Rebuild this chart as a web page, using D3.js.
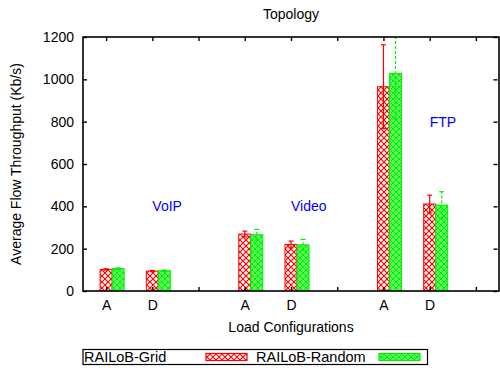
<!DOCTYPE html>
<html>
<head>
<meta charset="utf-8">
<script src="https://cdn.jsdelivr.net/npm/d3@7"></script>
<style>
  html, body { margin: 0; padding: 0; background: #fff; }
  svg { display: block; font-family: "Liberation Sans", Arial, Helvetica, sans-serif; }
</style>
</head>
<body>
<svg id="chart" width="500" height="371"></svg>
<script>
// ---- data ----
const tickLabels = ["A", "D", "", "A", "D", "", "A", "D", ""];
const barPositions = [1, 2, 4, 5, 7, 8];
const gridValues = [102, 94, 269, 220, 965, 411];
const gridErrors = [3, 3, 14, 16, 198, 42];
const randomValues = [106, 96, 266, 218, 1028, 406];
const randomErrors = [3, 3, 25, 26, 215, 63];
const trafficLabels = ["VoIP", "Video", "FTP"];
const trafficLabelX = [2, 5, 8];
const trafficLabelY = [400, 400, 800];
const yTicks = [0, 200, 400, 600, 800, 1000, 1200];
const seriesNames = ["RAILoB-Grid", "RAILoB-Random"];

// ---- layout ----
const svg = d3.select("#chart");
const mLeft = 83, mRight = 499, mTop = 37, mBottom = 291;
const x = d3.scaleLinear().domain([0.5, 9.5]).range([mLeft, mRight]);
const y = d3.scaleLinear().domain([0, 1200]).range([mBottom, mTop]);
const barW = x(0.76) - x(0.5);

// patterns
const defs = svg.append("defs");
const pr = defs.append("pattern").attr("id", "redHatch").attr("patternUnits", "userSpaceOnUse")
  .attr("width", 6).attr("height", 6);
pr.append("rect").attr("width", 6).attr("height", 6).attr("fill", "#fff");
pr.append("path").attr("d", "M0,0L6,6M6,0L0,6").attr("stroke", "#ff0000").attr("stroke-width", 1.2).attr("fill", "none");

const pg = defs.append("pattern").attr("id", "greenHatch").attr("patternUnits", "userSpaceOnUse")
  .attr("width", 6).attr("height", 6);
pg.append("rect").attr("width", 6).attr("height", 6).attr("fill", "#fff");
pg.append("path").attr("d", "M0,0L6,6M6,0L0,6").attr("stroke", "#00ee00").attr("stroke-width", 1.3).attr("fill", "none");
[[3,0],[0,3],[6,3],[3,6]].forEach(([cx, cy]) => {
  pg.append("circle").attr("cx", cx).attr("cy", cy).attr("r", 1.1).attr("fill", "none").attr("stroke", "#00ee00").attr("stroke-width", 0.9);
});

defs.append("clipPath").attr("id", "plotClip").append("rect")
  .attr("x", mLeft).attr("y", mTop).attr("width", mRight - mLeft).attr("height", mBottom - mTop);

// bars
const plot = svg.append("g").attr("clip-path", "url(#plotClip)");
const series = [
  { vals: gridValues, errs: gridErrors, off: 0, fill: "url(#redHatch)", color: "#ff0000", dash: null },
  { vals: randomValues, errs: randomErrors, off: 0.26, fill: "url(#greenHatch)", color: "#00ee00", dash: "3,2" }
];
series.forEach(s => {
  barPositions.forEach((p, i) => {
    const cx = x(p + s.off);
    plot.append("rect")
      .attr("x", cx - barW / 2).attr("y", y(s.vals[i]))
      .attr("width", barW).attr("height", y(0) - y(s.vals[i]))
      .attr("fill", s.fill).attr("stroke", s.color).attr("stroke-width", 1);
  });
});
// error bars
series.forEach(s => {
  barPositions.forEach((p, i) => {
    const cx = x(p + s.off);
    const hi = s.vals[i] + s.errs[i], lo = s.vals[i] - s.errs[i];
    plot.append("line").attr("x1", cx).attr("x2", cx).attr("y1", y(lo)).attr("y2", y(hi))
      .attr("stroke", s.color).attr("stroke-width", 1.2).attr("stroke-dasharray", s.dash);
    [hi, lo].forEach(v => {
      plot.append("line").attr("x1", cx - 2.5).attr("x2", cx + 2.5).attr("y1", y(v)).attr("y2", y(v))
        .attr("stroke", s.color).attr("stroke-width", 1.2);
    });
  });
});

// traffic labels
trafficLabels.forEach((t, i) => {
  svg.append("text").attr("x", x(trafficLabelX[i])).attr("y", y(trafficLabelY[i]) + 5)
    .attr("fill", "#0000ff").attr("font-size", "14px").text(t);
});

// frame
svg.append("rect").attr("x", mLeft).attr("y", mTop).attr("width", mRight - mLeft).attr("height", mBottom - mTop)
  .attr("fill", "none").attr("stroke", "#000").attr("stroke-width", 1.6);

// axes
const yAxis = d3.axisLeft(y).tickValues(yTicks).tickSize(-4).tickPadding(9).tickFormat(d3.format("d"));
const gy = svg.append("g").attr("transform", `translate(${mLeft},0)`).call(yAxis);
const yAxisR = d3.axisRight(y).tickValues(yTicks).tickSize(-4).tickFormat("");
const gyr = svg.append("g").attr("transform", `translate(${mRight - 1.5},0)`).call(yAxisR);
const tickIdx = d3.range(1, 10);
const xAxis = d3.axisBottom(x).tickValues(tickIdx).tickSize(-4).tickPadding(9).tickFormat(d => tickLabels[d - 1]);
const gx = svg.append("g").attr("transform", `translate(0,${mBottom})`).call(xAxis);
const xAxisT = d3.axisTop(x).tickValues(tickIdx).tickSize(-4).tickFormat("");
const gxt = svg.append("g").attr("transform", `translate(0,${mTop})`).call(xAxisT);
[gy, gyr, gx, gxt].forEach(g => {
  g.select(".domain").remove();
  g.selectAll(".tick line").attr("stroke", "#000").attr("stroke-width", 1.4);
  g.selectAll("text").attr("font-size", "14px").attr("fill", "#000")
    .attr("font-family", "'Liberation Sans', Arial, sans-serif");
});

// titles
svg.append("text").attr("x", (mLeft + mRight) / 2).attr("y", 19).attr("text-anchor", "middle")
  .attr("font-size", "14px").text("Topology");
svg.append("text").attr("x", (mLeft + mRight) / 2).attr("y", 332).attr("text-anchor", "middle")
  .attr("font-size", "14px").text("Load Configurations");
svg.append("text").attr("transform", `translate(21,${(mTop + mBottom) / 2}) rotate(-90)`)
  .attr("text-anchor", "middle").attr("font-size", "14px").text("Average Flow Throughput (Kb/s)");

// legend
const lg = svg.append("g");
lg.append("rect").attr("x", 83).attr("y", 349.5).attr("width", 344.5).attr("height", 15)
  .attr("fill", "#fff").attr("stroke", "#000").attr("stroke-width", 1.2);
const legendItems = [
  { name: seriesNames[0], tx: 84, sx: 206, fill: "url(#redHatch)", color: "#ff0000" },
  { name: seriesNames[1], tx: 256, sx: 379, fill: "url(#greenHatch)", color: "#00ee00" }
];
legendItems.forEach(it => {
  lg.append("text").attr("x", it.tx).attr("y", 362).attr("font-size", "14.5px").text(it.name);
  lg.append("rect").attr("x", it.sx).attr("y", 353.5).attr("width", 41).attr("height", 7)
    .attr("fill", it.fill).attr("stroke", it.color).attr("stroke-width", 1.2);
});
</script>
</body>
</html>
